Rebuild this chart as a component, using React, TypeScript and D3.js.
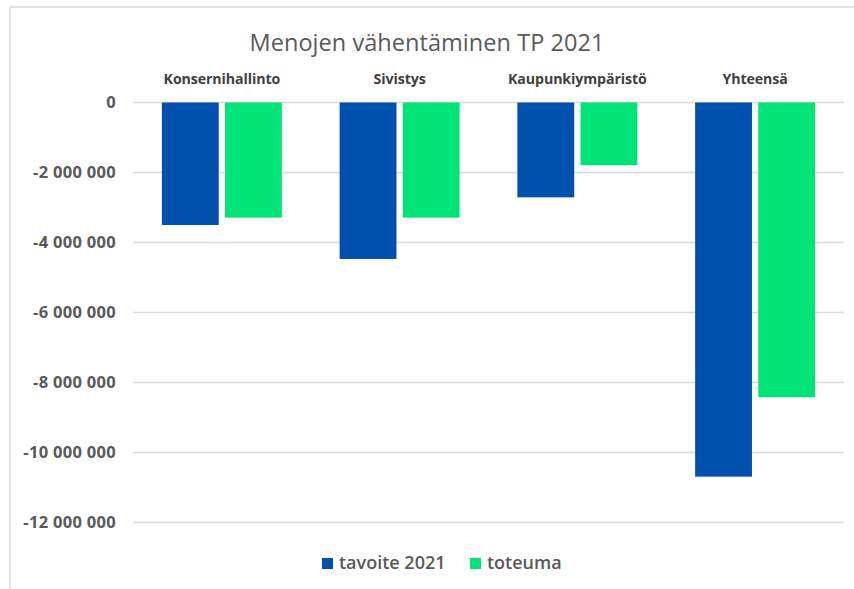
import React from "react";
import * as d3 from "d3";

const categories = ["Konsernihallinto", "Sivistys", "Kaupunkiympäristö", "Yhteensä"];
const seriesNames = ["tavoite 2021", "toteuma"];
const tavoite = [-3500000, -4470000, -2710000, -10690000];
const toteuma = [-3290000, -3290000, -1790000, -8420000];
const yTicks = [0, -2000000, -4000000, -6000000, -8000000, -10000000, -12000000];
const colors = ["#0050AE", "#02E377"];

const W = 854;
const H = 589;
const plotLeft = 133;
const plotRight = 844;
const plotTop = 102.5;
const plotBottom = 522.5;

const fmt = (v: number) => {
  const s = Math.abs(v).toString().replace(/\B(?=(\d{3})+(?!\d))/g, " ");
  return (v < 0 ? "-" : "") + s;
};

export default function App() {
  const y = d3.scaleLinear().domain([0, -12000000]).range([plotTop, plotBottom]);
  const x0 = d3.scaleBand<string>().domain(categories).range([plotLeft, plotRight]).paddingInner(0.325).paddingOuter(0.1625);
  const x1 = d3.scaleBand<string>().domain(seriesNames).range([0, x0.bandwidth()]).paddingInner(0.1);
  const series = [tavoite, toteuma];
  const font = "Open Sans, sans-serif";
  const legendX = [322, 470];
  return (
    <svg width={W} height={H} style={{ position: "absolute", left: 0, top: 0, background: "#fff" }}>
      <rect x={0} y={0} width={W} height={H} fill="#fff" />
      <line x1={10} y1={7} x2={W} y2={7} stroke="#d9d9d9" strokeWidth={1.5} />
      <line x1={10} y1={7} x2={10} y2={H} stroke="#d9d9d9" strokeWidth={1.5} />
      <text x={427} y={51} textAnchor="middle" fontFamily={font} fontSize={23.5} fill="#595959" letterSpacing={0.05}>
        Menojen vähentäminen TP 2021
      </text>
      {yTicks.map((t) => (
        <g key={t}>
          <line x1={plotLeft} x2={plotRight} y1={y(t)} y2={y(t)} stroke="#d9d9d9" strokeWidth={1.3} />
          <text x={116} y={y(t)} dy="0.35em" textAnchor="end" fontFamily={font} fontWeight={700} fontSize={16.5} fill="#595959" letterSpacing={0.3}>
            {fmt(t)}
          </text>
        </g>
      ))}
      {categories.map((c) => (
        <text key={c} x={(x0(c) as number) + x0.bandwidth() / 2} y={84} textAnchor="middle" fontFamily={font} fontWeight={700} fontSize={14.2} fill="#404040" letterSpacing={-0.1}>
          {c}
        </text>
      ))}
      {categories.map((c, i) => (
        <g key={c} transform={`translate(${x0(c)},0)`}>
          {seriesNames.map((s, j) => {
            const v = series[j][i];
            return (
              <rect key={s} x={x1(s)} y={y(0)} width={x1.bandwidth()} height={y(v) - y(0)} fill={colors[j]} />
            );
          })}
        </g>
      ))}
      {seriesNames.map((s, j) => {
        const lx = legendX[j];
        return (
          <g key={s}>
            <rect x={lx} y={558} width={11} height={11} fill={colors[j]} />
            <text x={lx + 17} y={569} fontFamily={font} fontWeight={600} fontSize={18} fill="#595959">
              {s}
            </text>
          </g>
        );
      })}
    </svg>
  );
}
